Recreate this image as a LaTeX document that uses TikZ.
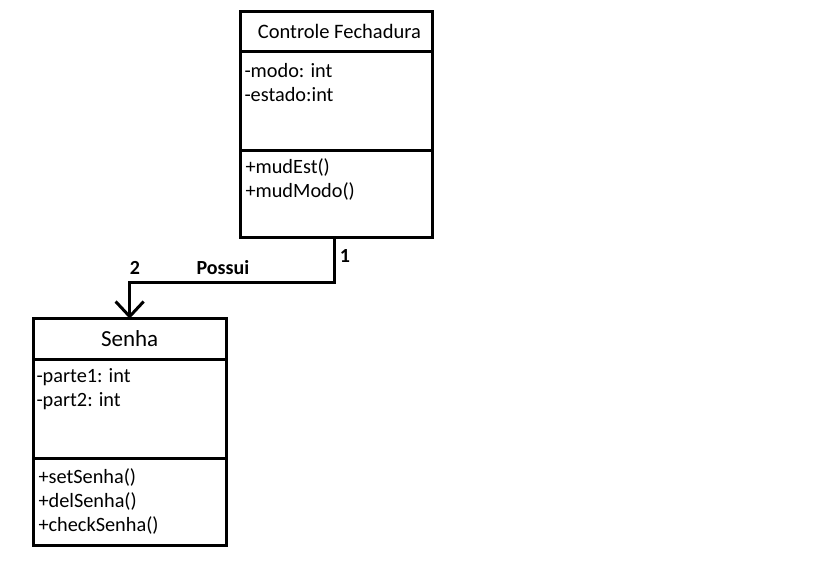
\documentclass[tikz,border=0pt]{standalone}
\usepackage{fontspec}
\setmainfont{Carlito}
\usetikzlibrary{arrows.meta}
\begin{document}
\begin{tikzpicture}[
    x=1pt, y=-1pt,
    line width=3pt,
    part/.style={
        rectangle,
        draw,
        inner sep=0pt,
        outer sep=0pt,
        minimum width=192.7pt,
        anchor=north west,
        font=\fontsize{20.5}{24}\selectfont,
    },
    member/.style={
        anchor=base west,
        inner sep=0pt,
        font=\fontsize{20.3}{24}\selectfont,
    },
    mult/.style={
        inner sep=0pt,
        font=\fontsize{20}{24}\selectfont\bfseries,
    },
]
    \useasboundingbox (0,0) rectangle (814,566);

    \node[part, minimum height=40.7pt] (cfname) at (240,11) {\hspace{6pt}Controle Fechadura};
    \node[part, minimum height=98.3pt] (cfattr) at (240,51.7) {};
    \node[part, minimum height=87.7pt] (cfmeth) at (240,150) {};
    \node[member] (cfa1) at (243,77) {-modo: int};
    \node[member] (cfa2) at (243,101) {-estado:int};
    \node[member] (cfm1) at (244,173) {+mudEst()};
    \node[member] (cfm2) at (244,197) {+mudModo()};

    \node[part, minimum height=40.3pt, font=\fontsize{23}{27}\selectfont] (snname) at (33.3,318.7) {Senha};
    \node[part, minimum height=99.3pt] (snattr) at (33.3,359) {};
    \node[part, minimum height=86.7pt] (snmeth) at (33.3,458.3) {};
    \node[member] (sna1) at (35,382) {-parte1: int};
    \node[member] (sna2) at (35,406) {-part2: int};
    \node[member] (snm1) at (37,483) {+setSenha()};
    \node[member] (snm2) at (37,507) {+delSenha()};
    \node[member] (snm3) at (37,531) {+checkSenha()};

    \coordinate (bend) at (0,282);
    \draw[-{Straight Barb[length=15pt,width=28pt]}] ([xshift=-1.8pt]cfmeth.south) |- (snname.north |- bend) -- (snname.north);

    \node[mult] (one) at (345,256) {1};
    \node[mult] (two) at (135,268) {2};
    \node[mult] (possui) at (223,268) {Possui};

\end{tikzpicture}
\end{document}
